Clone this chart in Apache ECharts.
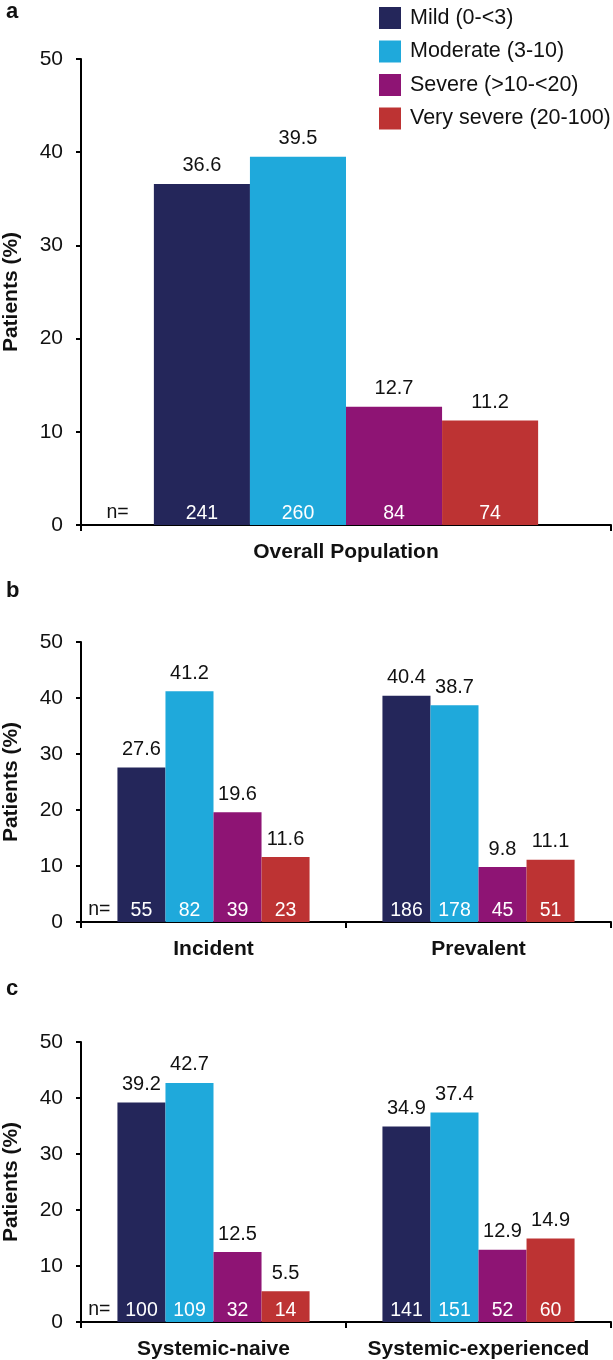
<!DOCTYPE html>
<html>
<head>
<meta charset="utf-8">
<script src="https://cdn.jsdelivr.net/npm/echarts@6/dist/echarts.min.js"></script>
<style>
html,body{margin:0;padding:0;background:#fff;}
#chart{width:613px;height:1360px;}
</style>
</head>
<body>
<div id="chart"></div>
<script>
// ---- Data ----
const severities = ['Mild (0-<3)', 'Moderate (3-10)', 'Severe (>10-<20)', 'Very severe (20-100)'];
const colors = ['#24265a', '#1fa9db', '#8e1474', '#bd3333'];
const yTicks = [0, 10, 20, 30, 40, 50];

// Panel a
const catsA = ['Overall Population'];
const mildA = [36.6], moderateA = [39.5], severeA = [12.7], verySevereA = [11.2];
const nMildA = [241], nModerateA = [260], nSevereA = [84], nVerySevereA = [74];

// Panel b
const catsB = ['Incident', 'Prevalent'];
const mildB = [27.6, 40.4], moderateB = [41.2, 38.7], severeB = [19.6, 9.8], verySevereB = [11.6, 11.1];
const nMildB = [55, 186], nModerateB = [82, 178], nSevereB = [39, 45], nVerySevereB = [23, 51];

// Panel c
const catsC = ['Systemic-naive', 'Systemic-experienced'];
const mildC = [39.2, 34.9], moderateC = [42.7, 37.4], severeC = [12.5, 12.9], verySevereC = [5.5, 14.9];
const nMildC = [100, 141], nModerateC = [109, 151], nSevereC = [32, 52], nVerySevereC = [14, 60];

// ---- Layout ----
const FONT = '"Liberation Sans", Arial, sans-serif';
const gridLeft = 81, gridRight = 2;
const panels = [
  { letter: 'a', cats: catsA, values: [mildA, moderateA, severeA, verySevereA], ns: [nMildA, nModerateA, nSevereA, nVerySevereA], top: 59, height: 466, letterY: 13 },
  { letter: 'b', cats: catsB, values: [mildB, moderateB, severeB, verySevereB], ns: [nMildB, nModerateB, nSevereB, nVerySevereB], top: 642, height: 280, letterY: 592 },
  { letter: 'c', cats: catsC, values: [mildC, moderateC, severeC, verySevereC], ns: [nMildC, nModerateC, nSevereC, nVerySevereC], top: 1042, height: 280, letterY: 990 }
];
const catGap = 0.275;
const chartW = 613;

const grid = [], xAxis = [], yAxis = [], series = [], graphic = [];

panels.forEach((p, i) => {
  grid.push({ left: gridLeft, right: gridRight, top: p.top, height: p.height, containLabel: false, outerBoundsMode: 'none' });
  xAxis.push({
    type: 'category', gridIndex: i, data: p.cats,
    axisLine: { lineStyle: { color: '#000', width: 2 } },
    axisTick: { show: true, length: 6, lineStyle: { color: '#000', width: 2 } },
    axisLabel: { color: '#111', fontSize: 21, fontWeight: 'bold', fontFamily: FONT, margin: 17, interval: 0 },
    splitLine: { show: false }
  });
  xAxis.push({
    type: 'category', gridIndex: i, data: p.cats, show: false
  });
  yAxis.push({
    type: 'value', gridIndex: i, min: 0, max: 50, interval: 10,
    name: 'Patients (%)', nameLocation: 'middle', nameRotate: 90, nameGap: 59,
    nameTextStyle: { color: '#111', fontSize: 21, fontWeight: 'bold', fontFamily: FONT },
    axisLine: { show: true, lineStyle: { color: '#000', width: 2 } },
    axisTick: { show: true, length: 5, lineStyle: { color: '#000', width: 2 } },
    axisLabel: { color: '#111', fontSize: 21, fontFamily: FONT, margin: 18,
      formatter: v => (yTicks.indexOf(v) >= 0 ? String(v) : '') },
    splitLine: { show: false }
  });
  severities.forEach((s, k) => {
    series.push({
      name: s, type: 'bar', xAxisIndex: 2 * i, yAxisIndex: i,
      data: p.values[k], barGap: 0, barCategoryGap: (catGap * 100) + '%',
      itemStyle: { color: colors[k] },
      label: { show: true, position: 'top', distance: 8, color: '#111', fontSize: 20, fontFamily: FONT,
        formatter: prm => prm.value.toFixed(1) },
      emphasis: { disabled: true }
    });
  });
  severities.forEach((s, k) => {
    series.push({
      name: 'n ' + s, type: 'bar', xAxisIndex: 2 * i + 1, yAxisIndex: i,
      data: p.values[k], barGap: 0, barCategoryGap: (catGap * 100) + '%',
      itemStyle: { color: 'rgba(0,0,0,0)' }, silent: true, z: 5,
      label: { show: true, position: 'insideBottom', distance: 1, color: '#fff', fontSize: 19.5, fontFamily: FONT,
        formatter: prm => String(p.ns[k][prm.dataIndex]) },
      emphasis: { disabled: true }
    });
  });
  const plotW = chartW - gridLeft - gridRight;
  const catW = plotW / p.cats.length;
  graphic.push({
    type: 'text', left: gridLeft + catW * catGap / 4 - 11, top: p.top + p.height - 22,
    style: { text: 'n=', fill: '#111', font: '19.5px ' + FONT }
  });
  graphic.push({
    type: 'text', left: 6, top: p.letterY - 12,
    style: { text: p.letter, fill: '#111', font: 'bold 22px ' + FONT }
  });
});

const chart = echarts.init(document.getElementById('chart'), null, { renderer: 'canvas' });
chart.setOption({
  animation: false,
  backgroundColor: '#fff',
  textStyle: { fontFamily: FONT },
  legend: {
    data: severities, orient: 'vertical', left: 374, top: 2,
    itemWidth: 22, itemHeight: 22, itemGap: 11.5, icon: 'rect',
    textStyle: { color: '#111', fontSize: 21.5, fontFamily: FONT, padding: [0, 0, 0, 4] },
    selectedMode: false
  },
  grid, xAxis, yAxis, series, graphic
});
</script>
</body>
</html>
